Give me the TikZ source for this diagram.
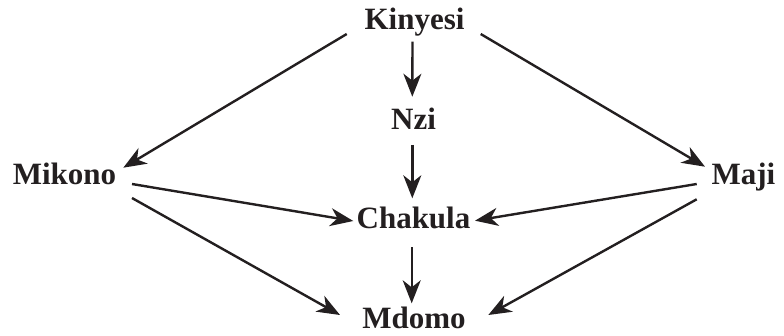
\documentclass[tikz,border=0pt]{standalone}
\usepackage{fontspec}
\setmainfont{Liberation Serif}
\usetikzlibrary{arrows.meta,calc}
\definecolor{ink}{RGB}{35,31,32}
\tikzset{
  lbl/.style={anchor=base,inner sep=0pt,text=ink,font=\fontsize{31}{34}\selectfont\bfseries},
  arr/.style={draw=ink,line width=2.4pt,-{Stealth[length=23pt,width=18pt,inset=7pt]}}
}
\begin{document}
\begin{tikzpicture}[x=1pt,y=1pt]
\useasboundingbox (0,0) rectangle (784,335);
% labels
\node[lbl] (kin) at (414.5,305) {Kinyesi};
\node[lbl] (nzi) at (413.5,205) {Nzi};
\node[lbl] (mik) at (64.5,150) {Mikono};
\node[lbl] (maj) at (743.5,150) {Maji};
\node[lbl] (cha) at (413.5,107) {Chakula};
\node[lbl] (mdo) at (414,7) {Mdomo};
% connectors
\draw[arr] ($(kin.base)+(-2,-11.7)$) -- ($(nzi.base)+(-1.2,33.3)$);
\draw[arr] ($(kin.base)+(-67.8,-4)$) -- ($(mik.base)+(58.8,17.3)$);
\draw[arr] ($(kin.base)+(66.2,-4)$) -- ($(maj.base)+(-38.5,18.3)$);
\draw[arr] ($(nzi.base)+(-1.2,-15)$) -- ($(cha.base)+(-1.2,29.7)$);
\draw[arr] ($(mik.base)+(67.5,1)$) -- ($(cha.base)+(-60.2,7)$);
\draw[arr] ($(mik.base)+(67.5,-13)$) -- ($(mdo.base)+(-74,13)$);
\draw[arr] ($(maj.base)+(-46.8,1)$) -- ($(cha.base)+(61.5,7.3)$);
\draw[arr] ($(maj.base)+(-46.8,-14.3)$) -- ($(mdo.base)+(74.3,13)$);
\draw[arr] ($(cha.base)+(-1.8,-19.3)$) -- ($(mdo.base)+(-2.3,24.7)$);
\end{tikzpicture}
\end{document}
